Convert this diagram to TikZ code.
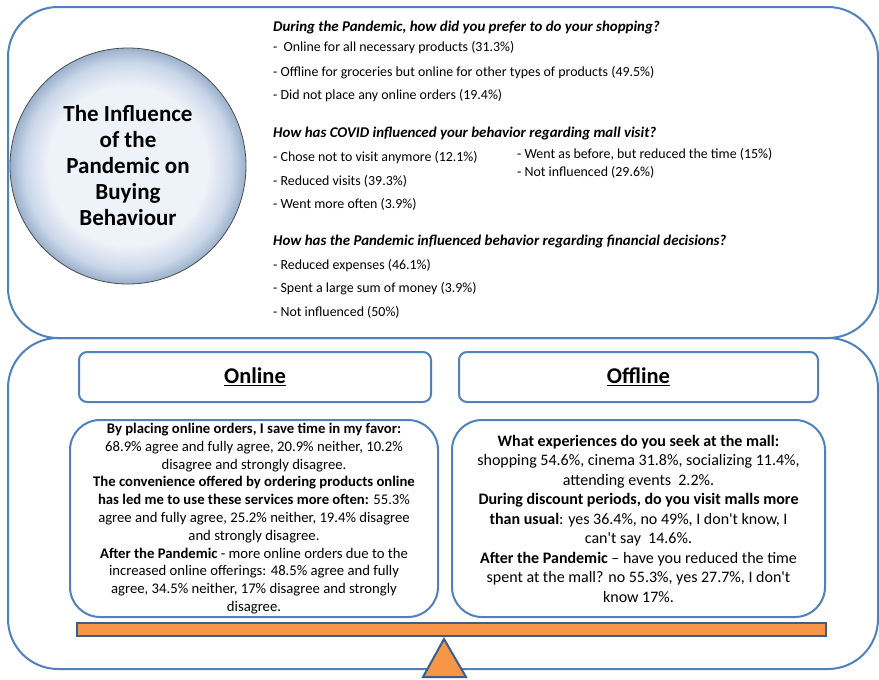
\documentclass[tikz,border=0pt]{standalone}
\usepackage{fontspec}
\setmainfont{Carlito}
\usetikzlibrary{positioning}

\definecolor{panelblue}{HTML}{4F81BD}
\definecolor{barorange}{HTML}{F79646}
\definecolor{baredge}{HTML}{3A5F8B}
\definecolor{bubin}{HTML}{EEF2F9}
\definecolor{bubmid}{HTML}{CAD7E9}
\definecolor{bubout}{HTML}{9BB0CC}
\pgfdeclareradialshading{bubble}{\pgfpoint{0bp}{0bp}}{color(0bp)=(bubin); color(17bp)=(bubin); color(22bp)=(bubmid); color(25bp)=(bubout); color(50bp)=(bubout)}

\tikzset{
  panel/.style={draw=panelblue, line width=2pt, rounded corners=50pt},
  headbox/.style={draw=panelblue, line width=2pt, rounded corners=8pt, minimum height=50pt, font=\fontsize{22.5}{26}\selectfont\bfseries},
  textbox/.style={draw=panelblue, line width=2pt, rounded corners=30pt, minimum height=197pt, inner sep=0pt, align=center},
  question/.style={anchor=west, inner sep=0pt, font=\fontsize{14.9}{17}\selectfont\bfseries\itshape},
  answer/.style={anchor=west, inner sep=0pt, font=\fontsize{13.9}{16}\selectfont},
  balance/.style={draw=baredge, fill=barorange, line width=2pt, line join=miter},
}

\begin{document}
\begin{tikzpicture}[x=1pt, y=-1pt]
    \useasboundingbox (0,0) rectangle (879,680);

    % Panels
    \draw[panel] (8,7) rectangle (878,338);
    \draw[panel] (8,338) rectangle (878,669);

    % Title bubble
    \node (title) [circle, draw=black!70, line width=0.8pt, shading=bubble, minimum size=236pt, align=center,
        font=\fontsize{23}{26}\selectfont\bfseries] at (128,166)
        {The Influence\\of the\\Pandemic on\\Buying\\Behaviour};

    % Question 1
    \node (q1)  [question] at (273,28) {During the Pandemic, how did you prefer to do your shopping?};
    \node (q1a) [answer]   at (273,48) {-~ Online for all necessary products (31.3\%)};
    \node (q1b) [answer]   at (273,73) {- Offline for groceries but online for other types of products (49.5\%)};
    \node (q1c) [answer]   at (273,96) {- Did not place any online orders (19.4\%)};

    % Question 2
    \node (q2)  [question] at (273,134) {How has COVID influenced your behavior regarding mall visit?};
    \node (q2a) [answer]   at (273,158) {- Chose not to visit anymore (12.1\%)};
    \node (q2b) [answer]   at (273,181) {- Reduced visits (39.3\%)};
    \node (q2c) [answer]   at (273,204) {- Went more often (3.9\%)};
    \node (q2d) [answer]   at (517,154) {- Went as before, but reduced the time (15\%)};
    \node (q2e) [answer]   at (517,172) {- Not influenced (29.6\%)};

    % Question 3
    \node (q3)  [question] at (273,242) {How has the Pandemic influenced behavior regarding financial decisions?};
    \node (q3a) [answer]   at (273,266) {- Reduced expenses (46.1\%)};
    \node (q3b) [answer]   at (273,289) {- Spent a large sum of money (3.9\%)};
    \node (q3c) [answer]   at (273,312) {- Not influenced (50\%)};

    % Headers
    \node (online)  [headbox, minimum width=352pt] at (255,377) {\underline{Online}};
    \node (offline) [headbox, minimum width=359pt] at (638.5,377) {\underline{Offline}};

    % Survey results
    \node (onlinetxt) [textbox, minimum width=368pt, font=\fontsize{14.7}{17.8}\selectfont] at (254,518.5)
        {\textbf{By placing online orders, I save time in my favor:}\\
         68.9\% agree and fully agree, 20.9\% neither, 10.2\%\\
         disagree and strongly disagree.\\
         \textbf{The convenience offered by ordering products online}\\
         \textbf{has led me to use these services more often:} 55.3\%\\
         agree and fully agree, 25.2\% neither, 19.4\% disagree\\
         and strongly disagree.\\
         \textbf{After the Pandemic} - more online orders due to the\\
         increased online offerings: 48.5\% agree and fully\\
         agree, 34.5\% neither, 17\% disagree and strongly\\
         disagree.};
    \node (offlinetxt) [textbox, minimum width=373pt, font=\fontsize{16}{19.5}\selectfont] at (638.5,518.5)
        {\textbf{What experiences do you seek at the mall:}\\
         shopping 54.6\%, cinema 31.8\%, socializing 11.4\%,\\
         attending events~ 2.2\%.\\
         \textbf{During discount periods, do you visit malls more}\\
         \textbf{than usual}: yes 36.4\%, no 49\%, I don\textquotesingle t know, I\\
         can\textquotesingle t say~ 14.6\%.\\
         \textbf{After the Pandemic} -- have you reduced the time\\
         spent at the mall? no 55.3\%, yes 27.7\%, I don\textquotesingle t\\
         know 17\%.};

    % Balance
    \draw[balance] (77,623) rectangle (826,636);
    \draw[balance] (444,639) -- (466,677) -- (423,677) -- cycle;

\end{tikzpicture}
\end{document}
